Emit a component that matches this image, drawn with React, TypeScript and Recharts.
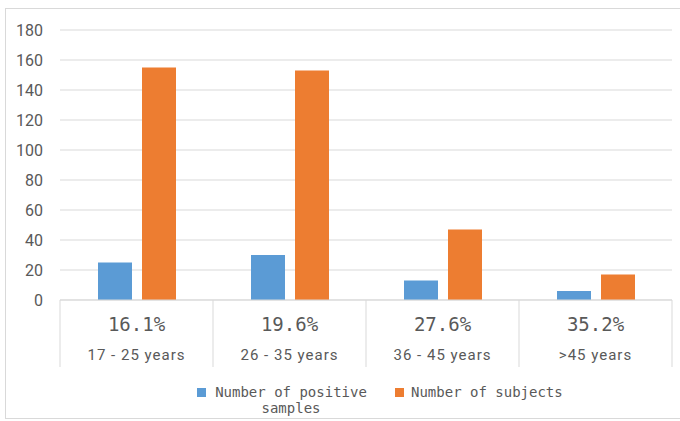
import React from 'react'
import { BarChart, Bar, XAxis, YAxis, CartesianGrid } from 'recharts'

const categories = ['17 - 25 years', '26 - 35 years', '36 - 45 years', '>45 years']
const positiveRates = ['16.1%', '19.6%', '27.6%', '35.2%']
const positiveSamples = [25, 30, 13, 6]
const subjects = [155, 153, 47, 17]
const yTicks = [0, 20, 40, 60, 80, 100, 120, 140, 160, 180]

const W = 680
const H = 421
const MARGIN = { top: 30, right: 8, left: 0, bottom: 54 }
const Y_WIDTH = 60
const X_HEIGHT = 67
const BAND = (W - MARGIN.left - MARGIN.right - Y_WIDTH) / categories.length

const GRID = '#d9d9d9'
const TEXT = '#595959'
const BLUE = '#5b9bd5'
const ORANGE = '#ed7d31'
const MONO = '"DejaVu Sans Mono", monospace'

const data = categories.map((c, i) => ({
  category: c,
  positive: positiveSamples[i],
  subjects: subjects[i]
}))

function CategoryTick(props: any) {
  const { x, y, index, payload } = props
  const half = BAND / 2
  return (
    <g>
      <line x1={x - half} y1={y} x2={x - half} y2={y + X_HEIGHT} stroke={GRID} />
      {index === categories.length - 1 && (
        <line x1={x + half} y1={y} x2={x + half} y2={y + X_HEIGHT} stroke={GRID} />
      )}
      <text x={x} y={y + 31} textAnchor="middle" fontFamily={MONO} fontSize={19} fill={TEXT}>
        {positiveRates[index]}
      </text>
      <text
        x={x}
        y={y + 60}
        textAnchor="middle"
        fontFamily="Roboto, sans-serif"
        fontSize={15}
        letterSpacing={1}
        fill={TEXT}
      >
        {payload.value}
      </text>
    </g>
  )
}

function LegendBox() {
  const swatch = (color: string) => (
    <span style={{ display: 'inline-block', width: 9, height: 9, background: color, marginTop: 4, flex: 'none' }} />
  )
  return (
    <div
      style={{
        position: 'absolute',
        top: 384,
        left: 197,
        display: 'flex',
        fontFamily: MONO,
        fontSize: 14,
        lineHeight: '16px',
        color: TEXT
      }}
    >
      <div style={{ display: 'flex', gap: 7 }}>
        {swatch(BLUE)}
        <div style={{ width: 156, textAlign: 'center' }}>Number of positive<br />samples</div>
      </div>
      <div style={{ display: 'flex', gap: 7, marginLeft: 26 }}>
        {swatch(ORANGE)}
        <div>Number of subjects</div>
      </div>
    </div>
  )
}

export default function App() {
  return (
    <div style={{ position: 'absolute', left: 0, top: 0, width: W, height: H, background: '#fff' }}>
      <div
        style={{
          position: 'absolute',
          left: 5,
          top: 8,
          width: W - 5,
          height: 409,
          borderLeft: `1px solid ${GRID}`,
          borderTop: `1px solid ${GRID}`,
          borderBottom: `1px solid ${GRID}`
        }}
      />
      <div style={{ position: 'absolute', left: 0, top: 0 }}>
        <BarChart width={W} height={H} data={data} margin={MARGIN} barSize={34} barGap={10}>
          <CartesianGrid vertical={false} stroke={GRID} />
          <XAxis
            dataKey="category"
            height={X_HEIGHT}
            tickLine={false}
            tickSize={0}
            tickMargin={0}
            axisLine={{ stroke: GRID }}
            tick={<CategoryTick />}
            interval={0}
          />
          <YAxis
            width={Y_WIDTH}
            domain={[0, 180]}
            ticks={yTicks}
            axisLine={false}
            tickLine={false}
            tickSize={0}
            tickMargin={17}
            tick={{ fill: TEXT, fontSize: 16, fontFamily: 'Roboto, sans-serif' }}
          />
          <Bar dataKey="positive" fill={BLUE} isAnimationActive={false} />
          <Bar dataKey="subjects" fill={ORANGE} isAnimationActive={false} />
        </BarChart>
      </div>
      <LegendBox />
    </div>
  )
}
